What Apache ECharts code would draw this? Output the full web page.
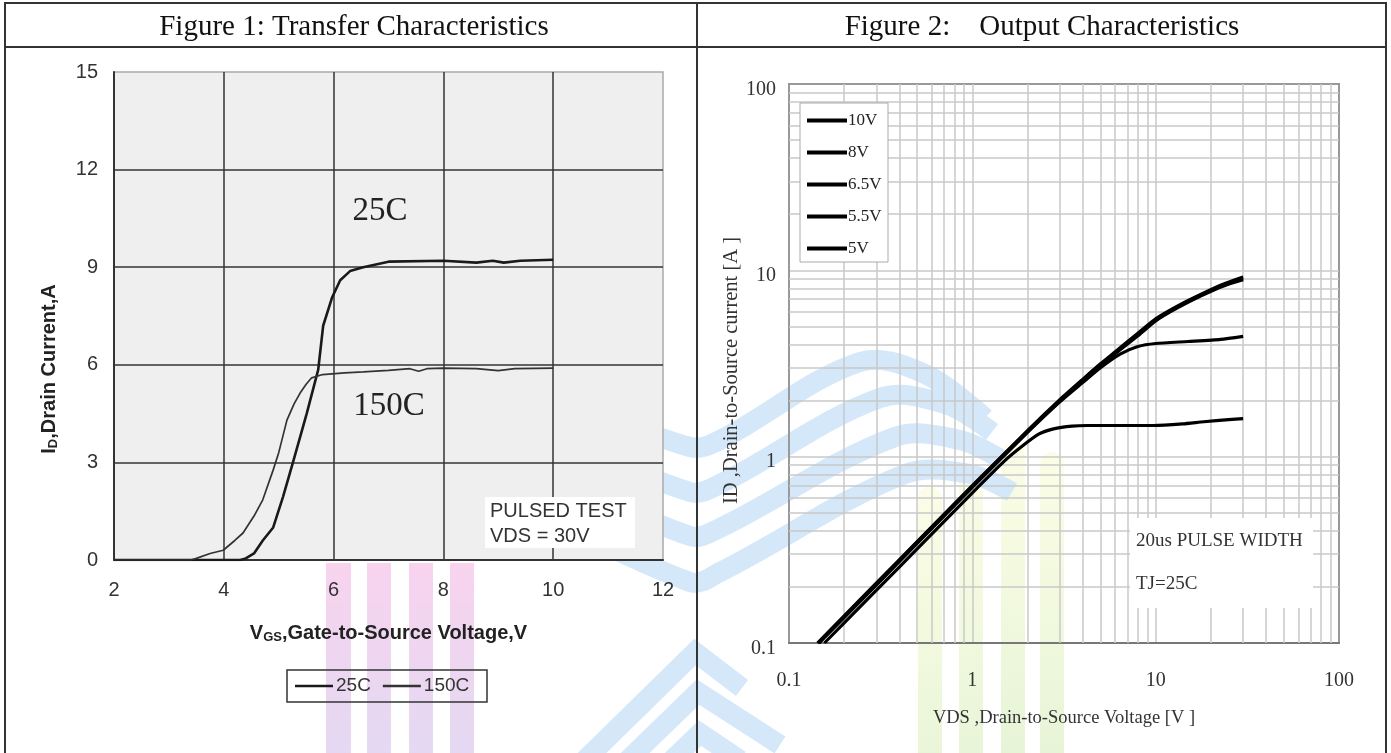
<!DOCTYPE html>
<html><head><meta charset="utf-8">
<script src="https://cdn.jsdelivr.net/npm/echarts@6/dist/echarts.min.js"></script>
<style>html,body{margin:0;padding:0;background:#fff}#c{width:1391px;height:753px}</style>
</head><body><div id="c"></div>
<script>
// ---------- data ----------
const fig1Title = 'Figure 1: Transfer Characteristics';
const fig2Title = 'Figure 2:    Output Characteristics';

// Figure 1 (linear axes)
const vgsRange = [2, 12];
const idRange = [0, 15];
const curve25C = [[2,0],[4.3,0],[4.4,0.05],[4.55,0.2],[4.71,0.6],[4.9,1.0],[5.08,1.95],[5.26,3.0],[5.51,4.5],[5.72,5.85],[5.81,7.2],[5.97,8.06],[6.12,8.6],[6.3,8.88],[6.54,9.0],[7.0,9.17],[8.0,9.2],[8.6,9.14],[8.9,9.2],[9.1,9.14],[9.4,9.2],[10,9.23]];
const curve150C = [[2,0],[3.4,0],[3.5,0.05],[3.75,0.2],[3.99,0.3],[4.2,0.6],[4.35,0.83],[4.55,1.35],[4.71,1.85],[4.9,2.77],[5.0,3.3],[5.15,4.3],[5.28,4.8],[5.39,5.13],[5.5,5.4],[5.6,5.6],[5.8,5.7],[6.2,5.75],[6.54,5.78],[7.0,5.83],[7.39,5.88],[7.55,5.8],[7.7,5.88],[8,5.9],[8.6,5.88],[9.0,5.82],[9.3,5.88],[10,5.9]];
const fig1Legend = ['25C', '150C'];

// Figure 2 (log-log axes)
const vdsRange = [0.1, 100];
const idLogRange = [0.1, 100];
const logMinorLines = [0.2,0.3,0.4,0.5,0.6,0.7,0.8,0.9,2,3,4,5,6,7,8,9,20,30,40,50,60,70,80,90];
const s10V  = [[0.143,0.1],[0.3,0.21],[0.5,0.35],[1,0.70],[2,1.38],[3,2.02],[4,2.6],[5,3.15],[6,3.65],[8,4.6],[10,5.5],[13.2,6.45],[17.7,7.45],[23.5,8.45],[30,9.2]];
const s8V   = [[0.144,0.1],[0.3,0.208],[0.5,0.348],[1,0.695],[2,1.37],[3,2.0],[4,2.58],[5,3.12],[6,3.6],[8,4.52],[10,5.42],[13.2,6.38],[17.7,7.38],[23.5,8.35],[30,9.05]];
const s6_5V = [[0.145,0.1],[0.3,0.206],[0.5,0.345],[1,0.69],[2,1.36],[3,1.98],[4,2.55],[5,3.08],[6,3.56],[8,4.45],[10,5.35],[13.2,6.3],[17.7,7.3],[23.5,8.25],[30,8.9]];
const s5_5V = [[0.146,0.1],[0.3,0.205],[0.5,0.342],[1,0.685],[2,1.35],[3,1.97],[4,2.5],[5,3.0],[6.4,3.55],[8,3.9],[10,4.05],[15,4.15],[22.6,4.26],[30,4.42]];
const s5V   = [[0.156,0.1],[0.3,0.192],[0.5,0.32],[1,0.64],[1.5,0.95],[1.83,1.12],[2.3,1.32],[2.77,1.41],[3.5,1.46],[4.25,1.47],[6,1.47],[9.75,1.47],[14,1.5],[18.3,1.54],[25,1.58],[30,1.6]];
const fig2Legend = ['10V', '8V', '6.5V', '5.5V', '5V'];

// ---------- chart ----------
const serif = "'Liberation Serif','Times New Roman',serif";
const sans = "'Liberation Sans',Arial,sans-serif";
const chart = echarts.init(document.getElementById('c'), null, {renderer: 'canvas'});
const logLabel = v => '{a|' + Number(Number(v).toPrecision(3)) + '}';

const fig2Series = [
  ['10V', s10V], ['8V', s8V], ['6.5V', s6_5V], ['5.5V', s5_5V], ['5V', s5V]
].map(([name, data], i) => {
  const s = {
    name, type: 'line', xAxisIndex: 1, yAxisIndex: 1, data,
    symbol: 'none', smooth: 0.2, z: 3,
    itemStyle: {color: '#000'},
    lineStyle: {color: '#000', width: 3.2}
  };
  if (i === 0) {
    s.markLine = {
      silent: true, symbol: 'none', z: 1, animation: false,
      label: {show: false},
      lineStyle: {color: '#c8c8c8', width: 1.5, type: 'solid'},
      data: logMinorLines.map(v => ({xAxis: v})).concat(logMinorLines.map(v => ({yAxis: v})))
    };
  }
  return s;
});

// ---------- background watermark (decorative) ----------
const G = echarts.graphic;
const pinkFill = new G.LinearGradient(0, 0, 0, 1, [{offset: 0, color: '#f8d3ee'}, {offset: 1, color: '#e3d9f3'}]);
const yellowFill = new G.LinearGradient(0, 0, 0, 1, [{offset: 0, color: '#fcfde6'}, {offset: 1, color: '#e6f4d6'}]);
const blue = '#d4e8fa';
const wm = [];
[[326, 25], [367, 24], [409, 24], [450, 24]].forEach(([x, w]) => wm.push({type: 'rect', shape: {x, y: 563, width: w, height: 200}, style: {fill: pinkFill}, z: -5, silent: true}));
[[918, 24, 487], [959, 24, 467], [1001, 24, 443], [1040, 24, 452]].forEach(([x, w, y]) => wm.push({type: 'rect', shape: {x, y, width: w, height: 320, r: [12, 12, 0, 0]}, style: {fill: yellowFill}, z: -5, silent: true}));
[
  [[540, 390], [690, 447], [720, 440], [860, 362], [925, 374], [985, 418]],
  [[530, 425], [690, 492], [720, 484], [880, 398], [945, 404], [992, 432]],
  [[515, 458], [690, 536], [720, 528], [895, 437], [960, 440], [1002, 460]],
  [[500, 492], [690, 582], [720, 572], [905, 474], [970, 474], [1012, 492]]
].forEach(pts => wm.push({type: 'polyline', shape: {points: pts, smooth: 0.35}, style: {stroke: blue, lineWidth: 20, fill: null}, z: -5, silent: true}));
[
  [[585, 760], [695, 652], [742, 688]],
  [[628, 760], [698, 692], [780, 745]],
  [[672, 760], [700, 733], [740, 760]]
].forEach(pts => wm.push({type: 'polyline', shape: {points: pts}, style: {stroke: blue, lineWidth: 20, fill: null, lineJoin: 'miter'}, z: -5, silent: true}));

const option = {
  animation: false,
  backgroundColor: '#fff',
  grid: [
    {left: 114, top: 72, width: 549, height: 488, show: true, backgroundColor: '#efefef', borderColor: '#aaa', borderWidth: 1.5},
    {left: 789, top: 84, width: 550, height: 559, show: true, backgroundColor: 'transparent', borderColor: '#999', borderWidth: 2}
  ],
  xAxis: [
    {
      gridIndex: 0, type: 'value', min: vgsRange[0], max: vgsRange[1], interval: 2,
      axisLine: {show: true, onZero: false, lineStyle: {color: '#333', width: 2}},
      axisTick: {show: false},
      axisLabel: {color: '#333', fontFamily: sans, fontSize: 20, margin: 20},
      splitLine: {show: true, showMinLine: false, showMaxLine: false, lineStyle: {color: '#333', width: 1.5}},
      name: '{a|V}{b|GS}{a|,Gate-to-Source Voltage,V}', nameLocation: 'middle', nameGap: 63,
      nameTextStyle: {rich: {
        a: {fontFamily: sans, fontWeight: 'bold', fontSize: 20, color: '#222'},
        b: {fontFamily: sans, fontWeight: 'bold', fontSize: 13, color: '#222', padding: [8, 0, 0, 0]}
      }}
    },
    {
      gridIndex: 1, type: 'log', logBase: 10, min: vdsRange[0], max: vdsRange[1],
      axisLine: {show: true, onZero: false, lineStyle: {color: '#777', width: 2}},
      axisTick: {show: false},
      axisLabel: {color: '#333', fontFamily: serif, fontSize: 20, margin: 28},
      splitLine: {show: true, showMinLine: false, showMaxLine: false, lineStyle: {color: '#c8c8c8', width: 1.5}},
      name: 'VDS ,Drain-to-Source Voltage [V ]', nameLocation: 'middle', nameGap: 66,
      nameTextStyle: {fontFamily: serif, fontSize: 18.5, color: '#333'}
    }
  ],
  yAxis: [
    {
      gridIndex: 0, type: 'value', min: idRange[0], max: idRange[1], interval: 3,
      axisLine: {show: true, onZero: false, lineStyle: {color: '#333', width: 2}},
      axisTick: {show: false},
      axisLabel: {color: '#333', fontFamily: sans, fontSize: 20, margin: 16},
      splitLine: {show: true, showMinLine: false, showMaxLine: false, lineStyle: {color: '#333', width: 1.5}},
      name: '{a|I}{b|D}{a|,Drain Current,A}', nameLocation: 'middle', nameGap: 54, nameRotate: 90,
      nameTextStyle: {padding: [0, 106, 0, 0], rich: {
        a: {fontFamily: sans, fontWeight: 'bold', fontSize: 20, color: '#222'},
        b: {fontFamily: sans, fontWeight: 'bold', fontSize: 13, color: '#222', padding: [8, 0, 0, 0]}
      }}
    },
    {
      gridIndex: 1, type: 'log', logBase: 10, min: idLogRange[0], max: idLogRange[1],
      axisLine: {show: true, onZero: false, lineStyle: {color: '#999', width: 2}},
      axisTick: {show: false},
      axisLabel: {color: '#333', fontFamily: serif, fontSize: 20, margin: 13, formatter: logLabel,
        rich: {a: {fontFamily: serif, fontSize: 20, color: '#333', padding: [11, 0, 0, 0]}}},
      splitLine: {show: true, showMinLine: false, showMaxLine: false, lineStyle: {color: '#c8c8c8', width: 1.5}},
      name: 'ID ,Drain-to-Source current [A ]', nameLocation: 'middle', nameGap: 39, nameRotate: 90,
      nameTextStyle: {fontFamily: serif, fontSize: 20.5, color: '#333', padding: [0, 14, 0, 0]}
    }
  ],
  legend: [
    {
      data: [{name: '25C', itemStyle: {color: '#1a1a1a'}}, {name: '150C', itemStyle: {color: '#333'}}],
      icon: 'rect', left: 295, top: 676, itemWidth: 38, itemHeight: 2.5, itemGap: 12,
      selectedMode: false, padding: 0,
      textStyle: {fontFamily: sans, fontSize: 19, color: '#333', lineHeight: 20, padding: [0, 0, 0, -2]}
    },
    {
      data: fig2Legend.map(n => ({name: n, itemStyle: {color: '#000'}})),
      icon: 'rect', orient: 'vertical', left: 807, top: 112, itemWidth: 40, itemHeight: 4, itemGap: 15,
      selectedMode: false, padding: 0,
      textStyle: {fontFamily: serif, fontSize: 17, color: '#222', padding: [0, 0, 0, -4]}
    }
  ],
  series: [
    {name: '25C', type: 'line', xAxisIndex: 0, yAxisIndex: 0, data: curve25C, symbol: 'none', z: 3,
     itemStyle: {color: '#1a1a1a'}, lineStyle: {color: '#1a1a1a', width: 2.6}},
    {name: '150C', type: 'line', xAxisIndex: 0, yAxisIndex: 0, data: curve150C, symbol: 'none', z: 3,
     itemStyle: {color: '#333'}, lineStyle: {color: '#333', width: 1.7}}
  ].concat(fig2Series),
  graphic: wm.concat([
    // table
    {type: 'rect', shape: {x: 5, y: 3, width: 1381, height: 770}, style: {fill: null, stroke: '#333', lineWidth: 2}, z: 10},
    {type: 'line', shape: {x1: 5, y1: 47, x2: 1386, y2: 47}, style: {stroke: '#333', lineWidth: 2}, z: 10},
    {type: 'line', shape: {x1: 697, y1: 3, x2: 697, y2: 753}, style: {stroke: '#333', lineWidth: 2}, z: 10},
    {type: 'text', x: 354, y: 27, style: {text: fig1Title, font: "29px 'Liberation Serif'", fill: '#111', align: 'center', verticalAlign: 'middle'}, z: 10},
    {type: 'text', x: 1042, y: 27, style: {text: fig2Title, font: "29px 'Liberation Serif'", fill: '#111', align: 'center', verticalAlign: 'middle'}, z: 10},
    // figure 1 annotations
    {type: 'text', x: 380, y: 211, style: {text: '25C', font: "33px 'Liberation Serif'", fill: '#222', align: 'center', verticalAlign: 'middle'}, z: 10},
    {type: 'text', x: 389, y: 406, style: {text: '150C', font: "33px 'Liberation Serif'", fill: '#222', align: 'center', verticalAlign: 'middle'}, z: 10},
    {type: 'rect', shape: {x: 485, y: 497, width: 150, height: 51}, style: {fill: '#fff'}, z: 8},
    {type: 'text', x: 490, y: 511, style: {text: 'PULSED TEST', font: "20px 'Liberation Sans'", fill: '#333', align: 'left', verticalAlign: 'middle'}, z: 10},
    {type: 'text', x: 490, y: 536, style: {text: 'VDS = 30V', font: "20px 'Liberation Sans'", fill: '#333', align: 'left', verticalAlign: 'middle'}, z: 10},
    {type: 'rect', shape: {x: 287, y: 670, width: 200, height: 32}, style: {fill: null, stroke: '#333', lineWidth: 1.5}, z: 10},
    // figure 2 annotations
    {type: 'rect', shape: {x: 800, y: 103, width: 88, height: 159}, style: {fill: '#fff', stroke: '#aaa', lineWidth: 1}, z: 2},
    {type: 'rect', shape: {x: 1130, y: 518, width: 183, height: 90}, style: {fill: '#fff'}, z: 8},
    {type: 'text', x: 1136, y: 541, style: {text: '20us PULSE WIDTH', font: "19px 'Liberation Serif'", fill: '#333', align: 'left', verticalAlign: 'middle'}, z: 10},
    {type: 'text', x: 1136, y: 584, style: {text: 'TJ=25C', font: "19px 'Liberation Serif'", fill: '#333', align: 'left', verticalAlign: 'middle'}, z: 10}
  ])
};
chart.setOption(option);
</script>
</body></html>
